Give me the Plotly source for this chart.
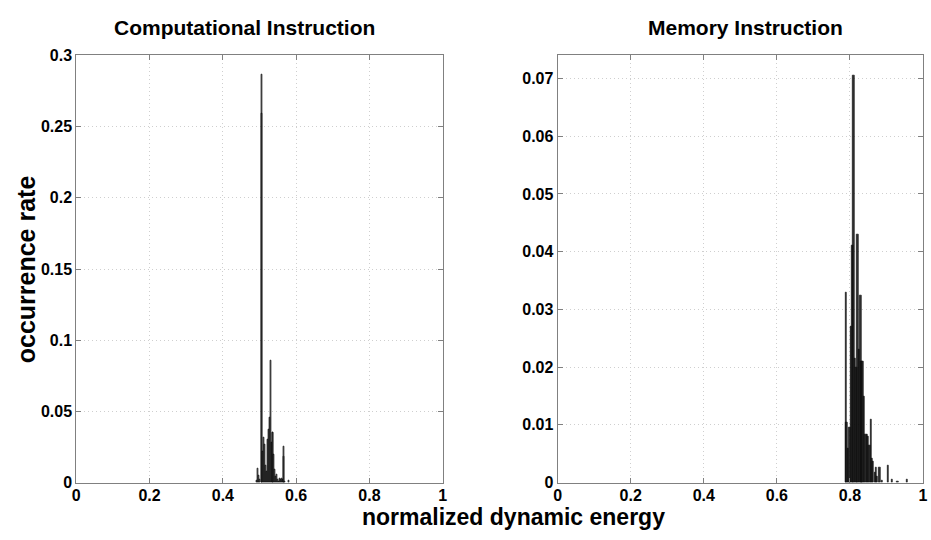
import plotly.graph_objects as go

# ---- data ----
comp_x = [0.4925, 0.4950, 0.4975, 0.5000, 0.5050, 0.5075, 0.5100, 0.5125, 0.5150, 0.5175,
          0.5200, 0.5225, 0.5250, 0.5275, 0.5300, 0.5325, 0.5350, 0.5375, 0.5400, 0.5425,
          0.5450, 0.5475, 0.5500, 0.5525, 0.5550, 0.5575, 0.5600, 0.5625, 0.5650, 0.5675,
          0.5700, 0.5800]
comp_y = [0.0015, 0.0102, 0.0050, 0.0020, 0.2870, 0.2590, 0.0220, 0.0320, 0.0270, 0.0120,
          0.0080, 0.0300, 0.0370, 0.0460, 0.0860, 0.0280, 0.0350, 0.0350, 0.0200, 0.0090,
          0.0040, 0.0055, 0.0020, 0.0010, 0.0030, 0.0020, 0.0030, 0.0020, 0.0180, 0.0257,
          0.0010, 0.0015]

mem_x = [0.789, 0.791, 0.795, 0.799, 0.803, 0.807, 0.810, 0.814, 0.818, 0.821,
         0.825, 0.829, 0.832, 0.835, 0.839, 0.843, 0.846, 0.850, 0.854, 0.857,
         0.861, 0.864, 0.868, 0.872, 0.875, 0.881, 0.888, 0.905, 0.915, 0.930, 0.957]
mem_y = [0.0330, 0.0104, 0.0059, 0.0095, 0.0270, 0.0410, 0.0705, 0.0215, 0.0200, 0.0430,
         0.0230, 0.0325, 0.0210, 0.0210, 0.0150, 0.0084, 0.0083, 0.0080, 0.0064, 0.0109,
         0.0042, 0.0037, 0.0017, 0.0027, 0.0010, 0.0027, 0.0003, 0.0030, 0.0006, 0.0002, 0.0006]

x_ticks = [0, 0.2, 0.4, 0.6, 0.8, 1]
x_tick_text = ["0", "0.2", "0.4", "0.6", "0.8", "1"]
comp_y_ticks = [0, 0.05, 0.1, 0.15, 0.2, 0.25, 0.3]
comp_y_text = ["0", "0.05", "0.1", "0.15", "0.2", "0.25", "0.3"]
mem_y_ticks = [0, 0.01, 0.02, 0.03, 0.04, 0.05, 0.06, 0.07]
mem_y_text = ["0", "0.01", "0.02", "0.03", "0.04", "0.05", "0.06", "0.07"]

titles = ["Computational Instruction", "Memory Instruction"]
x_label = "normalized dynamic energy"
y_label = "occurrence rate"

W, H = 931, 540
FONT = "Liberation Sans, Arial, Helvetica, sans-serif"

fig = go.Figure()
fig.add_trace(go.Bar(x=comp_x, y=comp_y, width=0.0028, xaxis="x", yaxis="y",
                     marker=dict(color="rgba(80,80,80,0.75)", line=dict(color="black", width=0.6)),
                     showlegend=False))
fig.add_trace(go.Bar(x=mem_x, y=mem_y, width=0.0036, xaxis="x2", yaxis="y2",
                     marker=dict(color="rgba(30,30,30,0.9)", line=dict(color="black", width=0.6)),
                     showlegend=False))

def yd(px):
    return 1 - px / H

axis_common = dict(
    showline=True, linecolor="#808080", linewidth=1, mirror="ticks",
    ticks="inside", ticklen=5, tickcolor="#808080",
    showgrid=True, gridcolor="#cfcfcf", griddash="1px,3px", gridwidth=1,
    zeroline=False,
    tickfont=dict(family=FONT, size=16, color="black", weight="bold"),
)

fig.update_layout(
    width=W, height=H,
    margin=dict(l=0, r=0, t=0, b=0),
    paper_bgcolor="white", plot_bgcolor="white",
    barmode="overlay", bargap=0,
    xaxis=dict(domain=[73 / W, 443 / W], range=[0, 1], tickvals=x_ticks, ticktext=x_tick_text,
               anchor="y", ticklabelstandoff=-2, **axis_common),
    yaxis=dict(domain=[yd(490), yd(49)], range=[0, 0.3], tickvals=comp_y_ticks, ticktext=comp_y_text,
               anchor="x", ticklabelstandoff=0, **axis_common),
    xaxis2=dict(domain=[559 / W, 928 / W], range=[0, 1], tickvals=x_ticks, ticktext=x_tick_text,
                anchor="y2", ticklabelstandoff=-2, **axis_common),
    yaxis2=dict(domain=[yd(490), yd(49)], range=[0, 0.074], tickvals=mem_y_ticks, ticktext=mem_y_text,
                anchor="x2", ticklabelstandoff=0, **axis_common),
    annotations=[
        dict(text=titles[0], x=243 / W, y=yd(20), xref="paper", yref="paper",
             showarrow=False, xanchor="center", yanchor="middle",
             font=dict(family=FONT, size=21, color="black", weight="bold")),
        dict(text=titles[1], x=749 / W, y=yd(20), xref="paper", yref="paper",
             showarrow=False, xanchor="center", yanchor="middle",
             font=dict(family=FONT, size=21, color="black", weight="bold")),
        dict(text=x_label, x=514 / W, y=0, xref="paper", yref="paper",
             showarrow=False, xanchor="center", yanchor="bottom", borderpad=0,
             font=dict(family=FONT, size=23, color="black", weight="bold")),
        dict(text=y_label, x=22 / W, y=yd(270), xref="paper", yref="paper",
             showarrow=False, xanchor="center", yanchor="middle", textangle=-90,
             font=dict(family=FONT, size=25, color="black", weight="bold")),
    ],
)

fig.write_html("out.html")
